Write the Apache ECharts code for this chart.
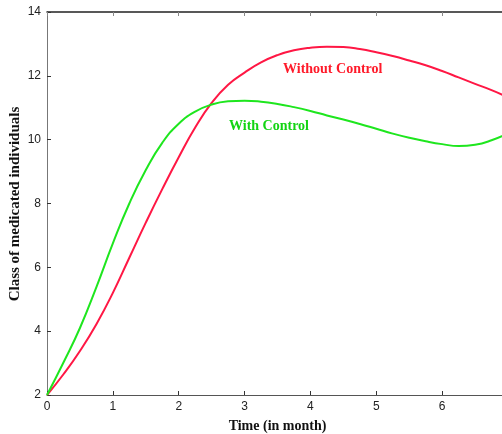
<!DOCTYPE html>
<html>
<head>
<meta charset="utf-8">
<script src="https://cdn.jsdelivr.net/npm/echarts@6/dist/echarts.min.js"></script>
<style>
  html, body { margin: 0; padding: 0; background: #fff; }
  #chart { width: 502px; height: 434px; }
</style>
</head>
<body>
<div id="chart"></div>
<script>
// Time in months
var months = [0, 0.25, 0.5, 0.75, 1, 1.25, 1.5, 1.75, 2, 2.25, 2.5, 2.75, 3, 3.25, 3.5,
              3.75, 4, 4.25, 4.5, 4.75, 5, 5.25, 5.5, 5.75, 6, 6.25, 6.5, 6.75, 7];

// Medicated individuals, no control applied
var withoutControl = [2, 2.65, 3.38, 4.22, 5.2, 6.3, 7.4, 8.45, 9.45, 10.38, 11.15, 11.72, 12.1,
                      12.42, 12.65, 12.8, 12.88, 12.91, 12.9, 12.84, 12.74, 12.62, 12.48,
                      12.33, 12.15, 11.95, 11.75, 11.55, 11.33];

// Medicated individuals, with control applied
var withControl = [2, 3.02, 4.1, 5.38, 6.75, 8.0, 9.05, 9.9, 10.5, 10.88, 11.1, 11.2, 11.22,
                   11.19, 11.12, 11.02, 10.9, 10.76, 10.63, 10.49, 10.34, 10.19, 10.06,
                   9.95, 9.86, 9.8, 9.84, 9.98, 10.2];

var xTicks = [0, 1, 2, 3, 4, 5, 6, 7];
var yTicks = [2, 4, 6, 8, 10, 12, 14];

function pairs(ys) {
  return months.map(function (m, i) { return [m, ys[i]]; });
}

var chart = echarts.init(document.getElementById('chart'));
var tickFont = { fontFamily: 'Liberation Sans, Arial, sans-serif', fontSize: 12, color: '#222' };
var serif = 'Liberation Serif, Times New Roman, serif';

chart.setOption({
  animation: false,
  backgroundColor: '#fff',
  grid: { left: 47, top: 12, right: -6, bottom: 39, containLabel: false, outerBoundsMode: 'none' },
  xAxis: [{
    type: 'value', min: xTicks[0], max: xTicks[xTicks.length - 1], interval: 1,
    axisLine: { show: true, onZero: false, lineStyle: { color: '#555', width: 1 } },
    axisTick: { show: true, inside: true, length: 4, lineStyle: { color: '#333' } },
    axisLabel: Object.assign({ margin: 6, showMaxLabel: false }, tickFont),
    splitLine: { show: false },
    name: 'Time (in month)', nameLocation: 'middle', nameGap: 24,
    nameTextStyle: { fontFamily: serif, fontWeight: 'bold', fontSize: 14, color: '#111' }
  }, {
    type: 'value', min: xTicks[0], max: xTicks[xTicks.length - 1], interval: 1, position: 'top',
    axisLine: { show: true, onZero: false, lineStyle: { color: '#222', width: 1.5 } },
    axisTick: { show: true, inside: true, length: 4, lineStyle: { color: '#888' } },
    axisLabel: { show: false },
    splitLine: { show: false }
  }],
  yAxis: {
    type: 'value', min: yTicks[0], max: yTicks[yTicks.length - 1], interval: 2,
    axisLine: { show: true, onZero: false, lineStyle: { color: '#777', width: 1 } },
    axisTick: { show: true, inside: true, length: 4, lineStyle: { color: '#333' } },
    axisLabel: Object.assign({ margin: 6 }, tickFont),
    splitLine: { show: false }
  },
  series: [{
    name: 'Without Control', type: 'line', data: pairs(withoutControl),
    smooth: 0.5, symbol: 'none', clip: true,
    lineStyle: { color: '#ff1744', width: 2 }
  }, {
    name: 'With Control', type: 'line', data: pairs(withControl),
    smooth: 0.5, symbol: 'none', clip: true,
    lineStyle: { color: '#1ee61e', width: 2 }
  }],
  graphic: [{
    // vertical axis title
    type: 'text', x: 15, y: 204, rotation: Math.PI / 2,
    style: { text: 'Class of medicated individuals', fill: '#111',
             font: 'bold 15px "Liberation Serif", "Times New Roman", serif',
             align: 'center', verticalAlign: 'middle' }
  }, {
    type: 'text', left: 283, top: 62,
    style: { text: 'Without Control', fill: '#ff1a2a',
             font: 'bold 14px "Liberation Serif", "Times New Roman", serif' }
  }, {
    type: 'text', left: 229, top: 119,
    style: { text: 'With Control', fill: '#12d412',
             font: 'bold 14px "Liberation Serif", "Times New Roman", serif' }
  }]
});
</script>
</body>
</html>
